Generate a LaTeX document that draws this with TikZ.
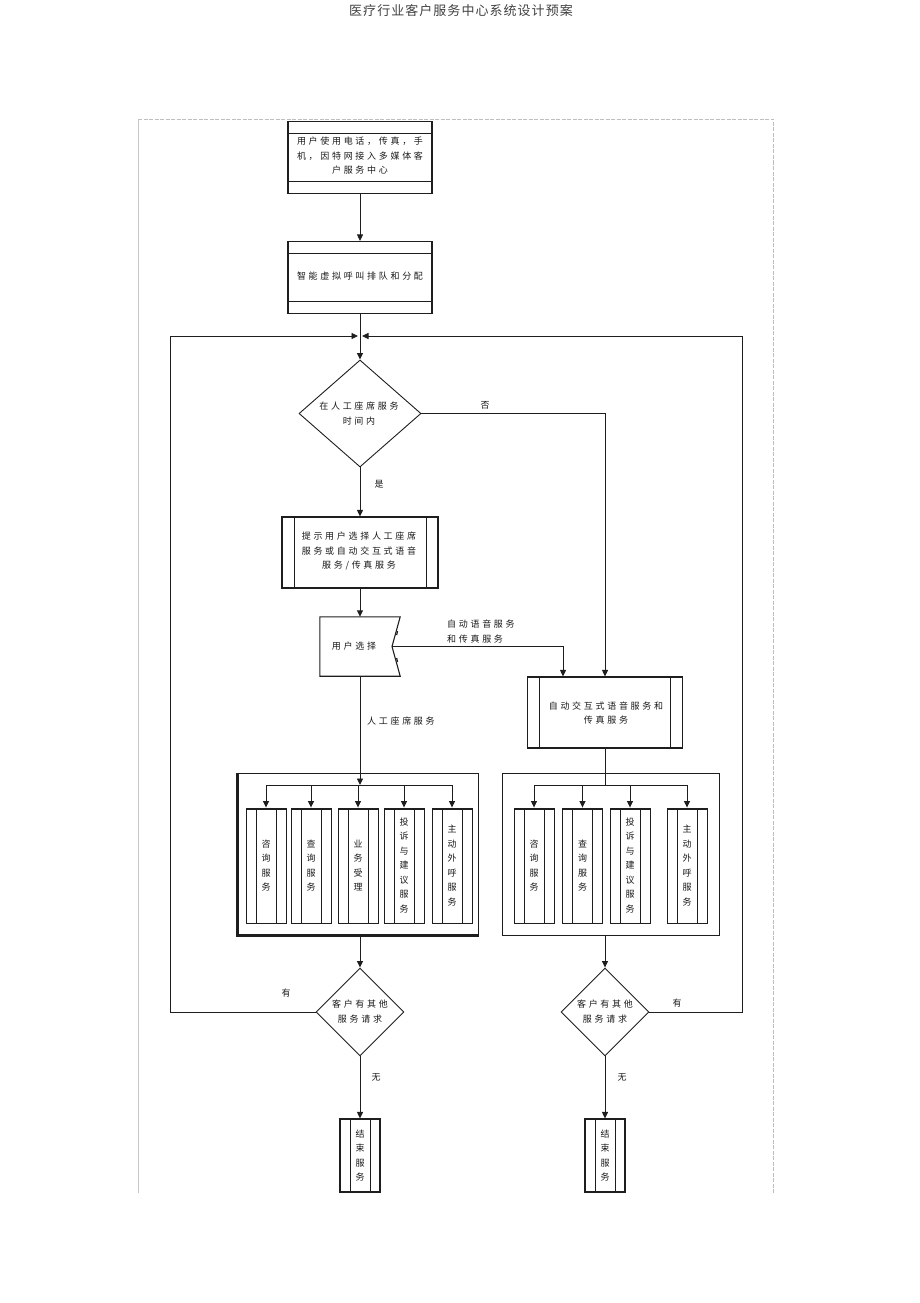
\documentclass[tikz,border=0pt]{standalone}
\usepackage{fontspec}
\usetikzlibrary{shapes.geometric,arrows.meta,calc}
\newfontfamily\cjk[LetterSpace=30]{Noto Sans CJK SC}
\newfontfamily\cjkh[LetterSpace=8]{Noto Sans CJK SC}
\definecolor{lncol}{RGB}{30,30,30}
\definecolor{framegreen}{RGB}{192,206,192}
\definecolor{framegray}{RGB}{190,190,190}
\begin{document}
\begin{tikzpicture}[x=1pt,y=-1pt,
  ln/.style={line width=0.9pt, draw=lncol},
  arr/.style={ln, -{Triangle[length=6.5pt,width=6pt]}},
  txt/.style={font=\cjk\fontsize{9}{14.5}\selectfont, text=black!90, align=center, inner sep=0pt},
  hbox/.style={draw=lncol, line width=1.1pt, rectangle, inner sep=0pt,
     minimum width=144pt, minimum height=72pt,
     path picture={
       \draw[line width=0.8pt, lncol] ([yshift=-11.5pt]path picture bounding box.north west) -- ([yshift=-11.5pt]path picture bounding box.north east);
       \draw[line width=0.8pt, lncol] ([yshift=12pt]path picture bounding box.south west) -- ([yshift=12pt]path picture bounding box.south east);}},
  vbox/.style={draw=lncol, line width=1.1pt, rectangle, inner sep=0pt,
     path picture={
       \draw[line width=0.8pt, lncol] ([xshift=#1]path picture bounding box.north west) -- ([xshift=#1]path picture bounding box.south west);
       \draw[line width=0.8pt, lncol] ([xshift=-#1]path picture bounding box.north east) -- ([xshift=-#1]path picture bounding box.south east);}},
  svc/.style={draw=lncol, line width=0.9pt, rectangle, inner sep=0pt,
     minimum width=40pt, minimum height=115pt,
     path picture={
       \draw[line width=0.8pt, lncol] ([xshift=10pt]path picture bounding box.north west) -- ([xshift=10pt]path picture bounding box.south west);
       \draw[line width=0.8pt, lncol] ([xshift=-10pt]path picture bounding box.north east) -- ([xshift=-10pt]path picture bounding box.south east);
       \draw[line width=3pt, lncol] (path picture bounding box.north west) -- (path picture bounding box.north east);}},
  dia/.style={draw=lncol, line width=0.9pt, diamond, inner sep=0pt, aspect=1},
  vt/.style={font=\cjk\fontsize{9}{14.5}\selectfont, text=black!90, align=center, inner sep=0pt}
]
\useasboundingbox (0,0) rectangle (920,1303);

% header
\node[font=\cjkh\fontsize{13}{13}\selectfont, text=black!75, inner sep=0pt] (title) at (461,11) {医疗行业客户服务中心系统设计预案};

% page frame
\draw[framegray, line width=0.7pt, dash pattern=on 4pt off 1.5pt] (138,119) -- (773,119) -- (773,1193);
\draw[framegreen, line width=0.9pt] (138,119) -- (138,1193);

% top boxes
\node[hbox] (b1) at (360,157.5) {};
\node[txt] (b1t) at (360,156) {用户使用电话，传真，手\\机，因特网接入多媒体客\\户服务中心};
\node[hbox] (b2) at (360,277.5) {};
\node[txt] (b2t) at (360,276) {智能虚拟呼叫排队和分配};

% decision 1
\node[dia, minimum width=122pt, minimum height=107pt] (d1) at (360,413.5) {};
\node[txt] (d1t) at (359,413.5) {在人工座席服务\\时间内};

\coordinate (Jl) at (358,336);
\coordinate (Jr) at (362,336);
\coordinate (lc) at (170,336);
\coordinate (rc) at (742,336);

% prompt box
\node[vbox=12pt, minimum width=156pt, minimum height=71pt] (pb) at (360,552.5) {};
\node[txt] (pbt) at (359,551) {提示用户选择人工座席\\服务或自动交互式语音\\服务/传真服务};

% user choice
\node[rectangle, minimum width=80pt, minimum height=59pt, inner sep=0pt] (uc) at (360,646.5) {};
\coordinate (ucn) at (392,646.5);
\draw[lncol, line width=1.1pt] (uc.north west) -- (uc.north east) -- (ucn) -- (uc.south east) -- (uc.south west) -- cycle;
\draw[lncol, line width=1.2pt] (397.5,631) -- (396.7,635);
\draw[lncol, line width=1.2pt] (396.7,658) -- (397.5,662);
\node[txt] (uct) at (354,646.5) {用户选择};

% right process box
\node[vbox=12pt, minimum width=155pt, minimum height=71pt] (rb) at (605,712.5) {};
\node[txt] (rbt) at (606,713) {自动交互式语音服务和\\传真服务};

% groups
\node[draw=lncol, line width=1pt, rectangle, minimum width=240pt, minimum height=162pt, inner sep=0pt] (lg) at (358,854) {};
\draw[lncol, line width=2.2pt] (lg.north west) -- (lg.south west) -- (lg.south east);
\node[draw=lncol, line width=1pt, rectangle, minimum width=217pt, minimum height=162pt, inner sep=0pt] (rg) at (610.5,854) {};

% left services
\node[svc] (ls1) at (266,865.5) {};
\node[svc] (ls2) at (311,865.5) {};
\node[svc] (ls3) at (358,865.5) {};
\node[svc] (ls4) at (404,865.5) {};
\node[svc] (ls5) at (452,865.5) {};
\node[vt] (ls1t) at (ls1) {咨\\询\\服\\务};
\node[vt] (ls2t) at (ls2) {查\\询\\服\\务};
\node[vt] (ls3t) at (ls3) {业\\务\\受\\理};
\node[vt] (ls4t) at (ls4) {投\\诉\\与\\建\\议\\服\\务};
\node[vt] (ls5t) at (ls5) {主\\动\\外\\呼\\服\\务};

% right services
\node[svc] (rs1) at (534,865.5) {};
\node[svc] (rs2) at (582.5,865.5) {};
\node[svc] (rs3) at (630,865.5) {};
\node[svc] (rs4) at (687,865.5) {};
\node[vt] (rs1t) at (rs1) {咨\\询\\服\\务};
\node[vt] (rs2t) at (rs2) {查\\询\\服\\务};
\node[vt] (rs3t) at (rs3) {投\\诉\\与\\建\\议\\服\\务};
\node[vt] (rs4t) at (rs4) {主\\动\\外\\呼\\服\\务};

% bottom decisions
\node[dia, minimum width=88pt, minimum height=88pt] (d3) at (360,1012) {};
\node[txt] (d3t) at (360,1011.5) {客户有其他\\服务请求};
\node[dia, minimum width=88pt, minimum height=88pt] (d4) at (605,1012) {};
\node[txt] (d4t) at (605,1011.5) {客户有其他\\服务请求};

% end boxes
\node[vbox=10pt, minimum width=40pt, minimum height=73pt] (e1) at (360,1155.5) {};
\node[vt] (e1t) at (e1) {结\\束\\服\\务};
\node[vbox=10pt, minimum width=40pt, minimum height=73pt] (e2) at (605,1155.5) {};
\node[vt] (e2t) at (e2) {结\\束\\服\\务};

% labels
\node[txt] (no1) at (485,405) {否};
\node[txt] (yes1) at (379,484) {是};
\node[txt, align=left, anchor=west] (lbl1) at (447,631.5) {自动语音服务\\和传真服务};
\node[txt, anchor=west] (lbl2) at (367,721) {人工座席服务};
\node[txt] (you1) at (286,993) {有};
\node[txt] (you2) at (677,1003) {有};
\node[txt] (wu1) at (376,1077) {无};
\node[txt] (wu2) at (622,1077) {无};

% connectors
\draw[arr] (b1.south) -- (b2.north);
\draw[arr] (b2.south) -- (d1.north);
\draw[arr] (d1.south) -- (pb.north);
\draw[arr] (pb.south) -- (uc.north);
\draw[arr] (d1.east) -| (rb.north);
\draw[arr] (ucn) -| ([xshift=-42pt]rb.north);

\coordinate (lj) at (360,785);
\coordinate (rj) at (605,785);
\draw[arr] (uc.south) -- (lj);
\draw[ln] (ls1.north |- lj) -- (ls5.north |- lj);
\foreach \s in {ls1,ls2,ls3,ls4,ls5} { \draw[arr] (\s.north |- lj) -- (\s.north); }
\draw[ln] (rb.south) -- (rj);
\draw[ln] (rs1.north |- rj) -- (rs4.north |- rj);
\foreach \s in {rs1,rs2,rs3,rs4} { \draw[arr] (\s.north |- rj) -- (\s.north); }

\draw[arr] (d3.north |- lg.south) -- (d3.north);
\draw[arr] (d4.north |- rg.south) -- (d4.north);
\draw[arr] (d3.south) -- (e1.north);
\draw[arr] (d4.south) -- (e2.north);

\draw[arr] (d3.west) -| (lc) -- (Jl);
\draw[arr] (d4.east) -| (rc) -- (Jr);
\end{tikzpicture}
\end{document}
